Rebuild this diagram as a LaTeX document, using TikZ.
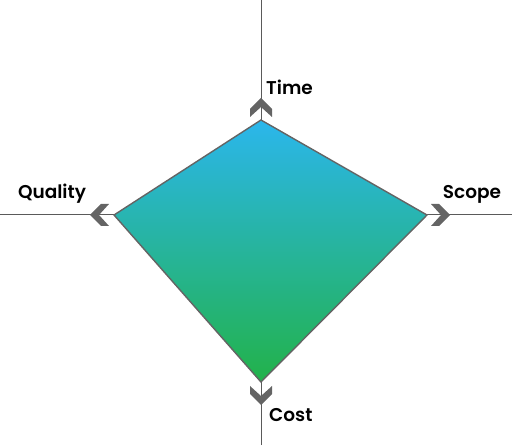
\documentclass[tikz,border=0pt]{standalone}
\usepackage{fontspec}
\setmainfont{Poppins}[UprightFont=*-Medium,BoldFont=*-SemiBold]
\usepackage{tikz}

\definecolor{axisgray}{HTML}{5A5A5A}
\definecolor{chevgray}{HTML}{646464}
\definecolor{topblue}{HTML}{2BB6EC}
\definecolor{botgreen}{HTML}{22B24A}

\begin{document}
\begin{tikzpicture}[
    x=1pt, y=1pt,
    axis/.style={draw=axisgray, line width=1pt},
    chev/.pic={\fill[chevgray] (0,0) -- (-11,11) -- (-19,11) -- (-9,0) -- (-19,-11) -- (-11,-11) -- cycle;},
    lbl/.style={font=\fontsize{18.5}{22}\selectfont\bfseries, text=black, inner sep=0pt}
  ]
  \useasboundingbox (0,0) rectangle (512,445);

  % Axes
  \coordinate (ytop) at (261,445);
  \coordinate (ybot) at (261,0);
  \coordinate (xl) at (0,230);
  \coordinate (xr) at (512,230);
  \draw[axis] (ybot) -- (ytop);
  \draw[axis] (xl) -- (xr);

  % Diamond
  \coordinate (dt) at (261,325);
  \coordinate (dr) at (427,230);
  \coordinate (db) at (261,63);
  \coordinate (dl) at (114,230);
  \shade[top color=topblue, bottom color=botgreen] (dt) -- (dr) -- (db) -- (dl) -- cycle;
  \draw[draw=chevgray, line width=1.4pt, line join=miter] (dt) -- (dr) -- (db) -- (dl) -- cycle;

  % Chevrons
  \pic[rotate=90] at (261,347) {chev};
  \pic[rotate=180] at (90,230) {chev};
  \pic at (450,230) {chev};
  \pic[rotate=-90] at (261,40) {chev};

  % Labels
  \node[lbl, anchor=west] (time) at (266,358) {Time};
  \node[lbl] (quality) at (52,251) {Quality};
  \node[lbl] (scope) at (472,251) {Scope};
  \node[lbl, anchor=west] (cost) at (269,30) {Cost};
\end{tikzpicture}
\end{document}
